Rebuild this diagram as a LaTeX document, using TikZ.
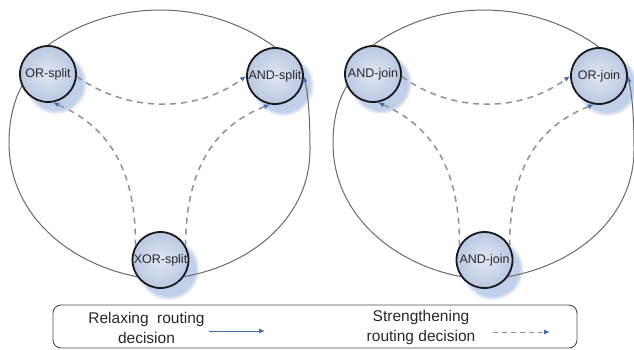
\documentclass[tikz,border=0pt]{standalone}
\usepackage{fontspec}
\setmainfont{Liberation Sans}
\usetikzlibrary{arrows.meta,shadows}
\definecolor{nodein}{RGB}{224,231,243}
\definecolor{nodeout}{RGB}{186,200,226}
\definecolor{shadowblue}{RGB}{192,207,234}
\definecolor{arcgray}{RGB}{105,105,105}
\definecolor{dashgray}{RGB}{145,145,145}
\definecolor{tipblue}{RGB}{70,108,170}
\definecolor{txt}{RGB}{40,40,40}
\tikzset{
 gate/.style={circle, minimum size=56pt, inner sep=0pt, line width=1.8pt, draw=black!90,
   inner color=nodein, outer color=nodeout, text=txt, font=\fontsize{12.5}{14}\selectfont,
   circular drop shadow={shadow xshift=7pt, shadow yshift=-8pt, shadow scale=1.12, fill=shadowblue, opacity=1}},
 rim/.style={draw=arcgray, line width=1pt},
 strong/.style={draw=dashgray, line width=1.5pt, dash pattern=on 6pt off 5pt},
 tip/.style={-{Latex[length=6pt,width=5pt,color=tipblue]}},
 legendbox/.style={draw=black!70, line width=0.9pt, rounded corners=8pt},
 legendtext/.style={align=center, text=txt, font=\fontsize{15.5}{20}\selectfont, inner sep=0pt}
}
\begin{document}
\begin{tikzpicture}[x=1pt,y=-1pt]
\useasboundingbox (0,0) rectangle (634,350);
% left figure
\begin{scope}
\node[gate] (ors) at (48,74) {OR-split};
\node[gate] (ands) at (275,76) {AND-split};
\node[gate] (xors) at (160.5,260) {XOR-split};
\draw[rim] (ors.north) .. controls (115,-2) and (207,-2) .. (ands.north);
\draw[rim] (ors.205) .. controls (14,100) and (9,120) .. (9,143) .. controls (9,215) and (70,264) .. (xors.215);
\draw[rim,tip] (xors.-35) .. controls (255,264) and (310,215) .. (310,150) .. controls (310,115) and (308,95) .. (ands.east);
\draw[strong,tip] (ors.-5) .. controls (128,113) and (196,113) .. (ands.west);
\draw[strong,tip] (xors.150) .. controls (136,165) and (105,125) .. (ors.-80);
\draw[strong,tip] (xors.30) .. controls (186,165) and (217,125) .. (ands.-100);
\end{scope}
% right figure
\begin{scope}[xshift=324pt]
\node[gate] (andj) at (49,74) {AND-join};
\node[gate] (orj) at (275,76) {OR-join};
\node[gate] (andb) at (160.5,260) {AND-join};
\draw[rim] (andj.north) .. controls (115,-2) and (207,-2) .. (orj.north);
\draw[rim] (andj.205) .. controls (14,100) and (9,120) .. (9,143) .. controls (9,215) and (70,264) .. (andb.215);
\draw[rim,tip] (andb.-35) .. controls (255,264) and (310,215) .. (310,150) .. controls (310,115) and (308,95) .. (orj.east);
\draw[strong,tip] (andj.-5) .. controls (128,113) and (196,113) .. (orj.west);
\draw[strong,tip] (andb.150) .. controls (136,165) and (105,125) .. (andj.-80);
\draw[strong,tip] (andb.30) .. controls (186,165) and (217,125) .. (orj.-100);
\end{scope}
% legend
\node[legendbox, minimum width=524pt, minimum height=43pt] (legend) at (315,326.5) {};
\node[legendtext] (relax) at (146.5,327.5) {Relaxing\hspace{0.55em}routing\\decision};
\node[legendtext] (strength) at (421,327.5) {Strengthening\\routing decision};
\coordinate (s1) at (209,331);
\coordinate (s2) at (265,331);
\draw[draw=tipblue, line width=1pt, tip] (s1) -- (s2);
\coordinate (d1) at (493,332);
\coordinate (d2) at (550,332);
\draw[draw=dashgray, line width=1pt, dash pattern=on 5pt off 4pt, tip] (d1) -- (d2);
\end{tikzpicture}
\end{document}
